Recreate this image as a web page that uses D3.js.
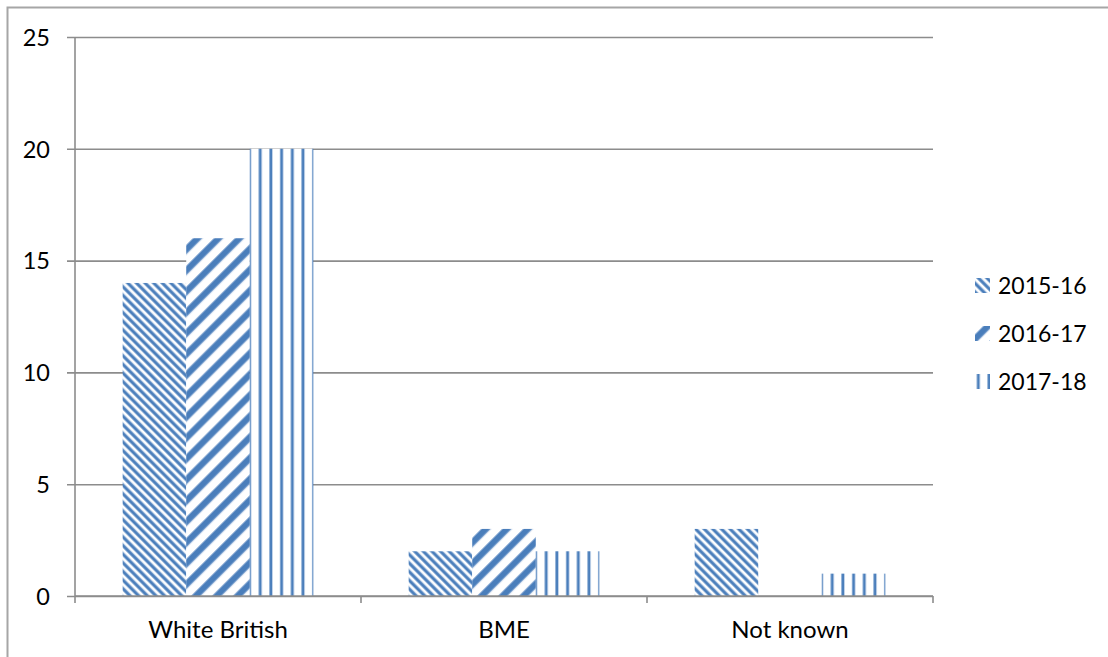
<!DOCTYPE html>
<html>
<head>
<meta charset="utf-8">
<script src="https://cdn.jsdelivr.net/npm/d3@7"></script>
<style>
  html, body { margin: 0; padding: 0; background: #fff; }
  svg { display: block; font-family: Lato, "Open Sans", sans-serif; }
</style>
</head>
<body>
<svg id="chart" width="1108" height="657"></svg>
<script>
// Ethnicity breakdown by year
const categories = ["White British", "BME", "Not known"];
const seriesNames = ["2015-16", "2016-17", "2017-18"];
const values2015 = [14, 2, 3];
const values2016 = [16, 3, 0];
const values2017 = [20, 2, 1];
const yTickValues = [0, 5, 10, 15, 20, 25];

const seriesValues = [values2015, values2016, values2017];

const W = 1108, H = 657;
const plot = { left: 75, right: 933, top: 37, bottom: 596 };
const blue = "#4a7ebb", blueSoft = "#a8c1e0";
const axisGrey = "#8c8c8c";

const svg = d3.select("#chart");
const defs = svg.append("defs");

// Striped fills: one per series
function stripes(id, period, width, angle, offset) {
  const p = defs.append("pattern")
    .attr("id", id)
    .attr("patternUnits", "userSpaceOnUse")
    .attr("width", period)
    .attr("height", period)
    .attr("patternTransform", `translate(${offset},0) rotate(${angle})`);
  p.append("rect").attr("width", period).attr("height", period).attr("fill", "#fff");
  p.append("rect").attr("x", 0).attr("y", 0).attr("width", width + 1.4).attr("height", period).attr("fill", blueSoft);
  p.append("rect").attr("x", 0.7).attr("y", 0).attr("width", width).attr("height", period).attr("fill", blue);
}
stripes("pat2015", 6.1, 2.5, -45, 0);
stripes("pat2016", 14.8, 5.8, 45, 0);
stripes("pat2017", 10.7, 2.2, 0, 1.5);
const fills = ["url(#pat2015)", "url(#pat2016)", "url(#pat2017)"];

// Outer frame (top and left edges visible)
svg.append("path")
  .attr("d", `M7.5,${H} V7.5 H${W}`)
  .attr("fill", "none").attr("stroke", "#a6a6a6").attr("stroke-width", 2);

const x0 = d3.scaleBand().domain(categories).range([plot.left, plot.right]).paddingInner(0).paddingOuter(0);
const x1 = d3.scaleBand().domain(seriesNames).range([0, x0.bandwidth()]).paddingInner(0).paddingOuter(0.75);
const y = d3.scaleLinear().domain([0, 25]).range([plot.bottom, plot.top]);

// Horizontal gridlines with y tick labels
const yAxis = svg.append("g")
  .attr("transform", `translate(${plot.left},0)`)
  .call(d3.axisLeft(y).tickValues(yTickValues).tickSize(0).tickPadding(0).tickFormat(d3.format("d")));
yAxis.select(".domain").remove();
yAxis.selectAll(".tick line").remove();
yAxis.selectAll(".tick").append("line")
  .attr("x1", -8).attr("x2", plot.right - plot.left)
  .attr("stroke", axisGrey).attr("stroke-width", 1.6);
yAxis.selectAll(".tick text")
  .attr("x", -25).attr("dy", "0.35em")
  .attr("fill", "#000").style("font-size", "23.5px").style("font-family", "Lato, sans-serif");

// Bars
const groups = svg.append("g").selectAll("g")
  .data(categories)
  .join("g")
  .attr("transform", d => `translate(${x0(d)},0)`);
groups.selectAll("rect")
  .data((c, i) => seriesNames.map((s, j) => ({ s, j, v: seriesValues[j][i] })))
  .join("rect")
  .attr("x", d => x1(d.s))
  .attr("width", x1.bandwidth())
  .attr("y", d => y(d.v))
  .attr("height", d => y(0) - y(d.v))
  .attr("fill", d => fills[d.j]);

// Vertical axis line
svg.append("line")
  .attr("x1", plot.left).attr("x2", plot.left)
  .attr("y1", plot.top).attr("y2", plot.bottom + 7)
  .attr("stroke", axisGrey).attr("stroke-width", 1.6);

// Category axis
const xAxis = svg.append("g")
  .attr("transform", `translate(0,${plot.bottom})`)
  .call(d3.axisBottom(x0).tickSize(0).tickPadding(0));
xAxis.select(".domain").remove();
xAxis.selectAll(".tick text")
  .attr("y", 42).attr("dy", 0)
  .attr("fill", "#000").style("font-size", "24px").style("font-family", "Lato, sans-serif");
svg.append("line")
  .attr("x1", plot.left).attr("x2", plot.right)
  .attr("y1", plot.bottom).attr("y2", plot.bottom)
  .attr("stroke", axisGrey).attr("stroke-width", 1.6);
svg.append("g").selectAll("line")
  .data(categories.map(c => x0(c) + x0.bandwidth()))
  .join("line")
  .attr("x1", d => d).attr("x2", d => d)
  .attr("y1", plot.bottom).attr("y2", plot.bottom + 7)
  .attr("stroke", axisGrey).attr("stroke-width", 1.6);

// Legend
const legend = svg.append("g").attr("transform", "translate(975,286)");
const li = legend.selectAll("g")
  .data(seriesNames)
  .join("g")
  .attr("transform", (d, i) => `translate(0,${i * 48})`);
li.append("rect")
  .attr("x", 0).attr("y", -8).attr("width", 15).attr("height", 15)
  .attr("fill", (d, i) => fills[i]);
li.append("text")
  .attr("x", 23).attr("dy", "0.35em")
  .style("font-size", "23px").style("font-family", "Lato, sans-serif")
  .attr("fill", "#000")
  .text(d => d);
</script>
</body>
</html>
